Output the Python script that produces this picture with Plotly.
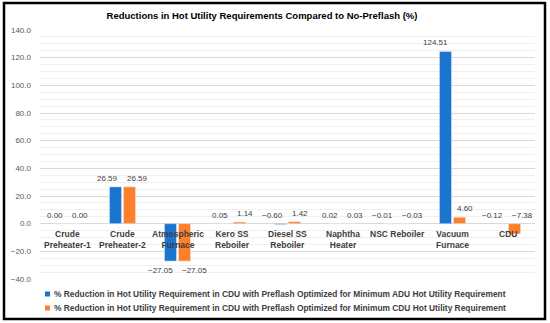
import plotly.graph_objects as go

categories = ["Crude<br>Preheater-1", "Crude<br>Preheater-2", "Atmospheric<br>Furnace",
              "Kero SS<br>Reboiler", "Diesel SS<br>Reboiler", "Naphtha<br>Heater",
              "NSC Reboiler", "Vacuum<br>Furnace", "CDU"]
series_adu = [0.00, 26.59, -27.05, 0.05, -0.60, 0.02, -0.01, 124.51, -0.12]
series_cdu = [0.00, 26.59, -27.05, 1.14, 1.42, 0.03, -0.03, 4.60, -7.38]
name_adu = "% Reduction in Hot Utility Requirement in CDU with Preflash Optimized for Minimum ADU Hot Utility Requirement"
name_cdu = "% Reduction in Hot Utility Requirement in CDU with Preflash Optimized for Minimum CDU Hot Utility Requirement"
title = "Reductions in Hot Utility Requirements Compared to No-Preflash (%)"

BLUE = "#1B75CF"
ORANGE = "#FF7F2A"
TXT = "#404040"
FONT = "Arial, Liberation Sans, sans-serif"

# plot area in pixels: x 40..535, y 30..279
PL, PR, PT, PB = 40, 535, 30, 279
def px(x):
    return (x - PL) / (PR - PL)
def py(y):
    return (PB - y) / (PB - PT)

fig = go.Figure()
fig.add_trace(go.Bar(x=categories, y=series_adu, name=name_adu, marker_color=BLUE, showlegend=False))
fig.add_trace(go.Bar(x=categories, y=series_cdu, name=name_cdu, marker_color=ORANGE, showlegend=False))

def fmt(v):
    return f"{v:.2f}".replace("-", "\u2212")

ann = []
for cat, a, c in zip(categories, series_adu, series_cdu):
    for v, anchor, shift in ((a, "right", -3), (c, "left", 2)):
        if v < -20:
            ann.append(dict(x=cat, y=v, xref="x", yref="y", text=fmt(v), showarrow=False,
                            xanchor=anchor, xshift=shift, yanchor="top", yshift=-3,
                            font=dict(size=8, color=TXT, family=FONT)))
        else:
            ann.append(dict(x=cat, y=max(v, 0), xref="x", yref="y", text=fmt(v), showarrow=False,
                            xanchor=anchor, xshift=shift, yanchor="bottom", yshift=2,
                            font=dict(size=8, color=TXT, family=FONT)))
    ann.append(dict(x=cat, y=0, xref="x", yref="y", text=f"<b>{cat}</b>", showarrow=False,
                    xanchor="center", yanchor="top", yshift=-3,
                    font=dict(size=8.5, color=TXT, family=FONT)))

shapes = [dict(type="rect", xref="paper", yref="paper", x0=px(4), x1=px(545),
               y0=py(319), y1=py(3), line=dict(color="black", width=2.5),
               fillcolor="rgba(0,0,0,0)", layer="above")]

# manual legend
for name, color, row_y in ((name_adu, BLUE, 294), (name_cdu, ORANGE, 308)):
    shapes.append(dict(type="rect", xref="paper", yref="paper", x0=px(45), x1=px(50),
                       y0=py(row_y + 2.5), y1=py(row_y - 2.5), fillcolor=color,
                       line=dict(width=0)))
    ann.append(dict(x=px(52), y=py(row_y), xref="paper", yref="paper", text=f"<b>{name}</b>",
                    showarrow=False, xanchor="left", yanchor="middle",
                    font=dict(size=8.4, color=TXT, family=FONT)))

fig.update_layout(
    width=550, height=323,
    margin=dict(l=PL, r=550 - PR, t=PT, b=323 - PB, autoexpand=False),
    paper_bgcolor="white", plot_bgcolor="white",
    font=dict(family=FONT, color=TXT),
    title=dict(text=f"<b>{title}</b>", x=px(262), xref="paper", xanchor="center",
               y=1 - 16 / 323, yanchor="middle", font=dict(size=9.5, color="#000000", family=FONT)),
    barmode="group", bargap=0.49, bargroupgap=0.14,
    showlegend=False,
    annotations=ann,
    shapes=shapes,
)
fig.update_xaxes(showticklabels=False, showline=False, showgrid=False, ticks="")
fig.update_yaxes(range=[-40, 140], dtick=20, tickformat=".1f", showgrid=True,
                 gridcolor="#D9D9D9", gridwidth=1, zeroline=True, zerolinecolor="#D9D9D9",
                 zerolinewidth=1, showline=False, ticks="", ticklabelstandoff=8,
                 tickfont=dict(size=8, color="#595959", family=FONT),
                 minor=dict(dtick=5, showgrid=True, gridcolor="#F0F0F0", gridwidth=1))

fig.write_html("out.html", config={"displayModeBar": False},
               post_script="document.body.style.margin='0';")
